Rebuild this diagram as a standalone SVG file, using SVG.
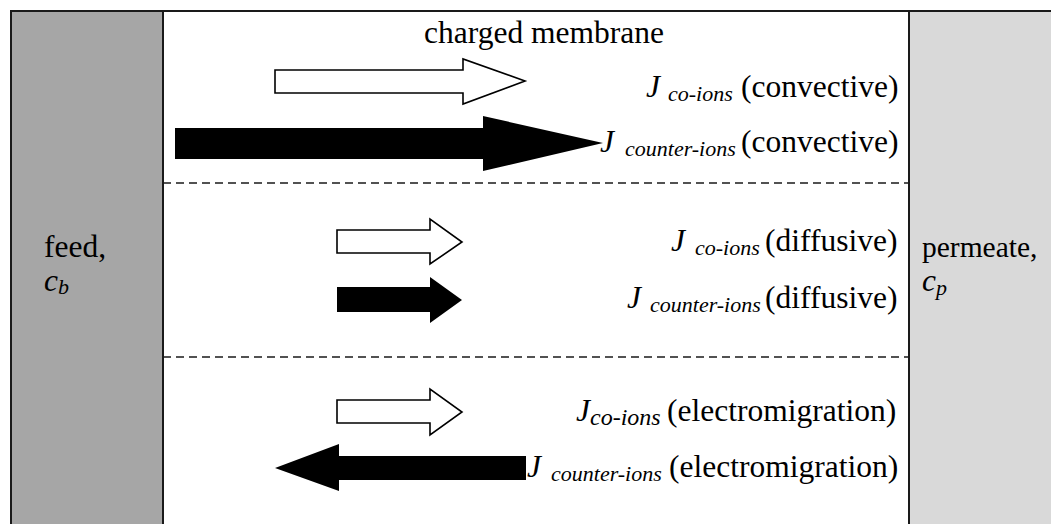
<svg xmlns="http://www.w3.org/2000/svg" width="1051" height="524" viewBox="0 0 1051 524">
  <style>
    .frame { stroke: #1a1a1a; stroke-width: 2; }
    .dash { stroke: #1a1a1a; stroke-width: 1.6; stroke-dasharray: 8 5; fill: none; }
    .open { fill: #ffffff; stroke: #000000; stroke-width: 1.6; stroke-linejoin: miter; }
    .solid { fill: #000000; stroke: none; }
    text { font-family: 'Liberation Serif', 'Times New Roman', Times, serif; font-size: 31.5px; fill: #000000; }
    .i { font-style: italic; }
    .sub { font-style: italic; font-size: 22px; }
  </style>

  <rect width="1051" height="524" fill="#ffffff"/>

  <!-- feed side -->
  <g id="feed">
    <rect class="frame" x="11" y="11" width="152" height="520" fill="#a6a6a6"/>
    <text x="44" y="257">feed,</text>
    <text x="44" y="291"><tspan class="i">c</tspan><tspan class="sub" dy="3">b</tspan></text>
  </g>

  <!-- membrane -->
  <g id="membrane">
    <rect class="frame" x="163" y="11" width="746" height="520" fill="#ffffff"/>
    <line class="dash" x1="163" y1="183" x2="909" y2="183"/>
    <line class="dash" x1="163" y1="357" x2="909" y2="357"/>
    <text x="544" y="43" text-anchor="middle">charged membrane</text>
  </g>

  <!-- permeate side (runs off the right edge) -->
  <g id="permeate">
    <rect class="frame" x="909" y="11" width="160" height="520" fill="#d9d9d9"/>
    <text x="922" y="257" style="font-size:29.5px">permeate,</text>
    <text x="922" y="291"><tspan class="i">c</tspan><tspan class="sub" dy="4">p</tspan></text>
  </g>

  <!-- flux arrows -->
  <g id="connectors">
    <polygon class="open" points="275,70 463,70 463,59 525,81 463,104 463,93 275,93"/>
    <polygon class="solid" points="175,128 483,128 483,116 603,143 483,171 483,159 175,159"/>
    <polygon class="open" points="337,230 430,230 430,219 462,242 430,264 430,253 337,253"/>
    <polygon class="solid" points="337,287 430,287 430,277 462,300 430,323 430,312 337,312"/>
    <polygon class="open" points="337,400 430,400 430,389 462,412 430,435 430,423 337,423"/>
    <polygon class="solid" points="526,456 339,456 339,444 275,468 339,491 339,480 526,480"/>
  </g>

  <!-- flux labels -->
  <g id="labels">
    <text y="97"><tspan class="i" x="646">J</tspan><tspan class="sub" x="668" dy="4">co-ions</tspan><tspan x="741" dy="-4">(convective)</tspan></text>
    <text y="152"><tspan class="i" x="600">J</tspan><tspan class="sub" x="625" dy="4">counter-ions</tspan><tspan x="741" dy="-4">(convective)</tspan></text>
    <text y="251"><tspan class="i" x="671">J</tspan><tspan class="sub" x="695" dy="4">co-ions</tspan><tspan x="765" dy="-4">(diffusive)</tspan></text>
    <text y="308"><tspan class="i" x="627">J</tspan><tspan class="sub" x="650" dy="4">counter-ions</tspan><tspan x="765" dy="-4">(diffusive)</tspan></text>
    <text y="421"><tspan class="i" x="576">J</tspan><tspan class="sub" x="590" dy="4" style="font-size:24px">co-ions</tspan><tspan x="667" dy="-4">(electromigration)</tspan></text>
    <text y="477"><tspan class="i" x="527">J</tspan><tspan class="sub" x="551" dy="4">counter-ions</tspan><tspan x="669" dy="-4">(electromigration)</tspan></text>
  </g>
</svg>
